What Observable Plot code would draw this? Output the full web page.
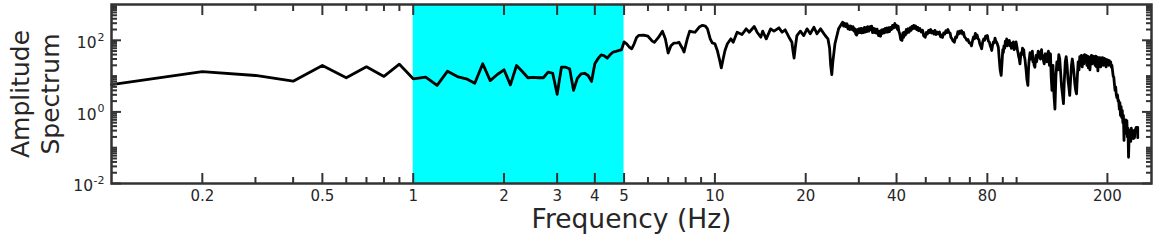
<!DOCTYPE html>
<html><head><meta charset="utf-8">
<script src="https://cdn.jsdelivr.net/npm/d3@7"></script>
<script src="https://cdn.jsdelivr.net/npm/@observablehq/plot@0.6"></script>
<style>body{margin:0;background:#fff;} svg{display:block}</style>
</head><body><div id="chart"></div>
<script>
// Frequency samples (Hz) and amplitude spectrum values
const freqHz = [
  0.1,0.2,0.3,0.4,0.5,0.6,0.7,0.8,0.9,1.0,
  1.1,1.2,1.3,1.4,1.5,1.6,1.7,1.8,1.9,2.0,
  2.1,2.2,2.3,2.4,2.5,2.6,2.7,2.8,2.9,3.0,
  3.1,3.2,3.3,3.4,3.5,3.6,3.7,3.8,3.9,4.0,
  4.1,4.2,4.3,4.4,4.5,4.6,4.7,4.8,4.9,5.0,
  5.1,5.2,5.3,5.4,5.5,5.6,5.8,6.0,6.2,6.3,
  6.5,6.7,6.85,7.0,7.15,7.3,7.5,7.6,7.8,7.9,
  8.1,8.25,8.5,8.6,8.9,9.1,9.3,9.45,9.65,9.8,
  10.0,10.2,10.4,10.5,10.65,10.8,11.0,11.3,11.5,11.85,
  12.3,12.7,13.0,13.5,13.8,14.2,14.4,14.8,15.3,15.7,
  16.3,16.7,17.1,17.6,18.0,18.15,18.3,18.5,18.7,19.2,
  19.7,20.2,20.7,21.3,21.8,22.4,23.2,23.7,24.0,24.2,
  24.4,24.6,25.0,25.7,
  26.5,26.7,26.9,27.1,27.4,27.6,27.8,28.0,28.2,28.5,
  28.7,28.9,29.1,29.3,29.5,29.7,29.9,30.1,30.3,30.5,
  30.7,30.9,31.1,31.3,31.5,31.7,31.9,32.1,32.4,32.7,
  32.9,33.1,33.3,33.5,33.7,33.9,34.2,34.5,34.7,34.9,
  35.2,35.4,35.7,35.9,36.2,36.4,36.7,36.9,37.2,37.4,
  37.7,37.9,38.2,38.5,38.8,39.1,39.5,39.8,40.0,40.3,
  40.5,40.7,41.0,41.3,41.7,42.0,42.2,42.5,42.8,43.1,
  43.4,43.7,44.0,44.4,44.7,45.0,45.3,45.6,46.0,46.3,
  46.6,47.0,47.3,47.8,
  48.3,48.8,49.2,49.8,50.2,50.6,51.1,51.5,51.9,52.3,
  52.7,53.2,53.6,54.0,54.5,55.0,55.5,56.0,56.5,56.8,
  57.3,57.8,58.3,58.8,59.2,59.7,60.2,60.6,61.1,61.6,
  62.2,62.8,63.3,63.9,64.3,64.8,65.2,65.7,66.2,66.7,
  67.2,67.8,68.4,69.0,69.6,70.2,70.9,71.5,72.0,72.5,
  73.0,73.5,74.0,74.5,75.0,75.5,76.0,76.6,77.2,77.8,
  78.3,78.9,79.5,80.0,80.6,81.2,81.8,82.4,82.7,83.3,
  83.8,84.3,84.8,85.3,85.8,86.3,87.0,
  87.6,88.2,88.9,89.5,90.0,90.4,90.8,91.3,91.8,92.3,
  92.7,93.2,93.6,94.1,94.6,95.1,95.6,96.1,96.6,97.1,
  97.6,98.1,98.6,99.1,99.6,100.1,100.6,101.1,101.6,102.1,
  102.6,103.1,103.6,104.1,104.6,105.1,105.6,106.1,106.6,107.1,
  107.6,108.2,109,109.5,109.9,110.4,110.8,111.3,111.8,112.3,
  112.8,113.3,113.8,114.3,115,115.5,116,116.5,117,117.5,
  118,118.5,119,119.5,120,120.5,121,121.5,122,122.7,
  123.5,124,124.5,125,125.5,126,126.5,127,127.5,128,
  128.5,129,129.5,130.2,131,
  132,133,134,135,136,137,138,139,140,141,
  142,143,144,145,146,147,148,149,150,151,
  152,153,154,155,156,157,158,159,
  160,161,162,163,164,165,166,167,168,169,
  170,171,172,173,174,175,176,177,178,179,
  180,181,182,183,184,185,186,187,188,189,
  190,191,192,193,194,195,196,197,198,199,
  200,201,202,203,204,205,206,207,208,209,
  210,211,212,213,214,215,216,217,218,219,
  220,221,222,223,224,225,226,227,228,229,
  230,231,232,233,234,235,236,237,238,239,
  240,241,242,243,244,245,246,247,249,252,252.1
];
const amplitude = [
  5.8,13.4,10.4,7.2,19.8,9.0,18.2,9.8,21.5,8.4,
  9.3,5.5,13.7,9.7,8.4,6.3,22.1,7.5,11.1,15.0,
  5.7,19.8,13.4,9.0,9.2,9.0,9.0,12.9,12.0,3.1,
  17.7,17.7,16.0,4.0,8.6,11.6,12.0,10.4,7.1,22.1,
  31,39,37,32,40,47,49,52,54,90,
  80,65,58,80,120,138,140,130,95,88,
  120,180,110,44,70,83,85,88,60,47,
  110,180,170,168,240,262,250,209,110,85,
  80,50,25,17,30,52,80,110,88,168,
  145,209,168,243,168,122,180,110,209,180,
  223,168,196,122,88,50,32,70,136,180,
  136,209,152,232,152,209,136,110,60,20,
  11,25,80,209,
  321,250,300,240,290,210,250,200,250,200,
  240,180,210,150,140,200,160,210,165,215,
  160,210,165,230,170,225,175,240,180,240,
  200,250,165,215,165,210,160,205,150,135,
  180,130,195,155,200,160,215,170,220,170,
  225,175,230,200,260,220,295,230,260,200,
  250,180,150,105,99,160,120,170,140,200,
  160,210,170,225,190,245,210,262,215,250,
  200,230,185,215,
  170,190,135,122,165,150,190,165,200,160,
  180,150,190,145,170,150,170,125,140,120,
  160,150,185,165,200,165,160,120,110,95,
  88,125,120,175,150,180,160,185,150,165,
  125,115,100,105,85,85,70,100,125,110,
  155,120,140,110,105,80,70,58,90,110,
  100,130,115,136,95,90,70,60,52,75,
  90,85,115,95,90,80,64,
  30,15,10.4,25,55,45,70,60,95,80,
  110,70,95,75,100,70,85,60,80,65,
  90,55,85,60,90,70,55,45,35,30,
  22,35,45,40,60,45,55,35,30,20,
  14,8,5.5,15,25,35,45,30,45,35,
  50,25,30,20,17.7,30,38,25,32,40,
  50,38,47,32,30,45,55,35,38,28,
  22,35,42,28,30,25,32,45,50,30,
  20,35,42,10,4.0,
  20,3,1.2,10,25,15,40,30,12,5,
  3,1.7,8,25,35,20,8,5,2.9,8,
  20,30,20,11.6,6,4,3.2,10,
  25,15,35,20,38,18,36,22,40,30,
  38,20,36,17,34,15,32,38,22,36,
  25,35,20,36,18,34,14,32,22,33,
  18,32,24,33,20,31,22,30,18,29,
  22,28,20,27,22,25,18,20,14,10,
  9.3,6,4,5,3,2.5,3,2.0,2.1,1.2,
  1.8,0.8,1.4,0.7,1.1,0.5,0.8,0.16,0.5,0.3,
  0.6,0.25,0.57,0.2,0.35,0.054,0.2,0.3,0.24,0.15,
  0.35,0.2,0.3,0.30,0.18,0.3,0.19,0.3,0.37,0.37,0.19
];
const highlightBandHz = [1, 5];
const xTickValues = [0.2, 0.5, 1, 2, 3, 4, 5, 10, 20, 40, 80, 200];
const xTickLabels = ["0.2", "0.5", "1", "2", "3", "4", "5", "10", "20", "40", "80", "200"];
const xMinorTicks = [0.3, 0.4, 0.6, 0.7, 0.8, 0.9, 6, 7, 8, 9, 30, 50, 60, 70, 90, 100];
const yTickValues = [0.01, 1, 100];
const yTickBase = ["10", "10", "10"];
const yTickExponents = ["-2", "0", "2"];
const yMinorTicks = [
  0.02,0.03,0.04,0.05,0.06,0.07,0.08,0.09,0.1,
  0.2,0.3,0.4,0.5,0.6,0.7,0.8,0.9,
  2,3,4,5,6,7,8,9,10,
  20,30,40,50,60,70,80,90,
  200,300,400,500,600,700,800,900
];
const xTitle = "Frequency (Hz)";
const yTitle = "Amplitude\nSpectrum";

const data = freqHz.map((f, i) => ({f, a: amplitude[i]}));
const yLabelRows = yTickValues.map((v, i) => ({v, base: yTickBase[i], exp: yTickExponents[i]}));
const axisColor = "#333333";
const textColor = "#262626";

const chart = Plot.plot({
  width: 1162, height: 241,
  marginLeft: 111, marginRight: 11, marginTop: 4, marginBottom: 58,
  style: {fontFamily: "DejaVu Sans, sans-serif", fontSize: "15px", color: textColor, background: "#fff"},
  x: {type: "log", domain: [0.1, 280]},
  y: {type: "log", domain: [0.01, 1000]},
  marks: [
    Plot.rect([{x1: highlightBandHz[0], x2: highlightBandHz[1]}], {x1: "x1", x2: "x2", fill: "#00ffff"}),
    Plot.line(data, {x: "f", y: "a", stroke: "black", strokeWidth: 2.8, strokeLinejoin: "round"}),
    // inward tick marks
    Plot.axisX({anchor: "bottom", ticks: xTickValues, tickSize: -10, fill: "none", stroke: axisColor, strokeWidth: 2, label: null}),
    Plot.axisX({anchor: "bottom", ticks: xMinorTicks, tickSize: -6, fill: "none", stroke: axisColor, strokeWidth: 2, label: null}),
    Plot.axisX({anchor: "top", ticks: xTickValues, tickSize: -10, fill: "none", stroke: axisColor, strokeWidth: 2, label: null}),
    Plot.axisX({anchor: "top", ticks: xMinorTicks, tickSize: -6, fill: "none", stroke: axisColor, strokeWidth: 2, label: null}),
    Plot.axisY({anchor: "left", ticks: yTickValues, tickSize: -10, fill: "none", stroke: axisColor, strokeWidth: 2, label: null}),
    Plot.axisY({anchor: "left", ticks: yMinorTicks, tickSize: -6, fill: "none", stroke: axisColor, strokeWidth: 2, label: null}),
    Plot.axisY({anchor: "right", ticks: yTickValues, tickSize: -10, fill: "none", stroke: axisColor, strokeWidth: 2, label: null}),
    Plot.axisY({anchor: "right", ticks: yMinorTicks, tickSize: -6, fill: "none", stroke: axisColor, strokeWidth: 2, label: null}),
    Plot.frame({stroke: axisColor, strokeWidth: 2.5}),
    // x tick labels
    Plot.text(xTickValues, {x: d => d, text: (d, i) => xTickLabels[i], frameAnchor: "bottom", dy: 13, fontSize: 15, fill: textColor, lineAnchor: "middle"}),
    // y tick labels: base "10" plus superscript exponent
    Plot.text(yLabelRows.filter(r => r.exp.length === 1), {y: "v", text: "base", frameAnchor: "left", dx: -15, dy: 3, textAnchor: "end", fontSize: 15.5, fill: textColor, lineAnchor: "middle"}),
    Plot.text(yLabelRows.filter(r => r.exp.length > 1), {y: "v", text: "base", frameAnchor: "left", dx: -18.5, dy: 3, textAnchor: "end", fontSize: 15.5, fill: textColor, lineAnchor: "middle"}),
    Plot.text(yLabelRows, {y: "v", text: "exp", frameAnchor: "left", dx: -7, dy: -3, textAnchor: "end", fontSize: 11, fill: textColor, lineAnchor: "middle"}),
    // titles
    Plot.text([xTitle], {text: d => d, frameAnchor: "bottom", dy: 36.5, fontSize: 26.5, fill: textColor, lineAnchor: "middle"}),
    Plot.text([yTitle], {text: d => d, frameAnchor: "left", dx: -77, rotate: -90, fontSize: 25, lineHeight: 1.2, fill: textColor, lineAnchor: "middle", textAnchor: "middle"})
  ]
});
document.getElementById("chart").appendChild(chart);
</script>
</body></html>
